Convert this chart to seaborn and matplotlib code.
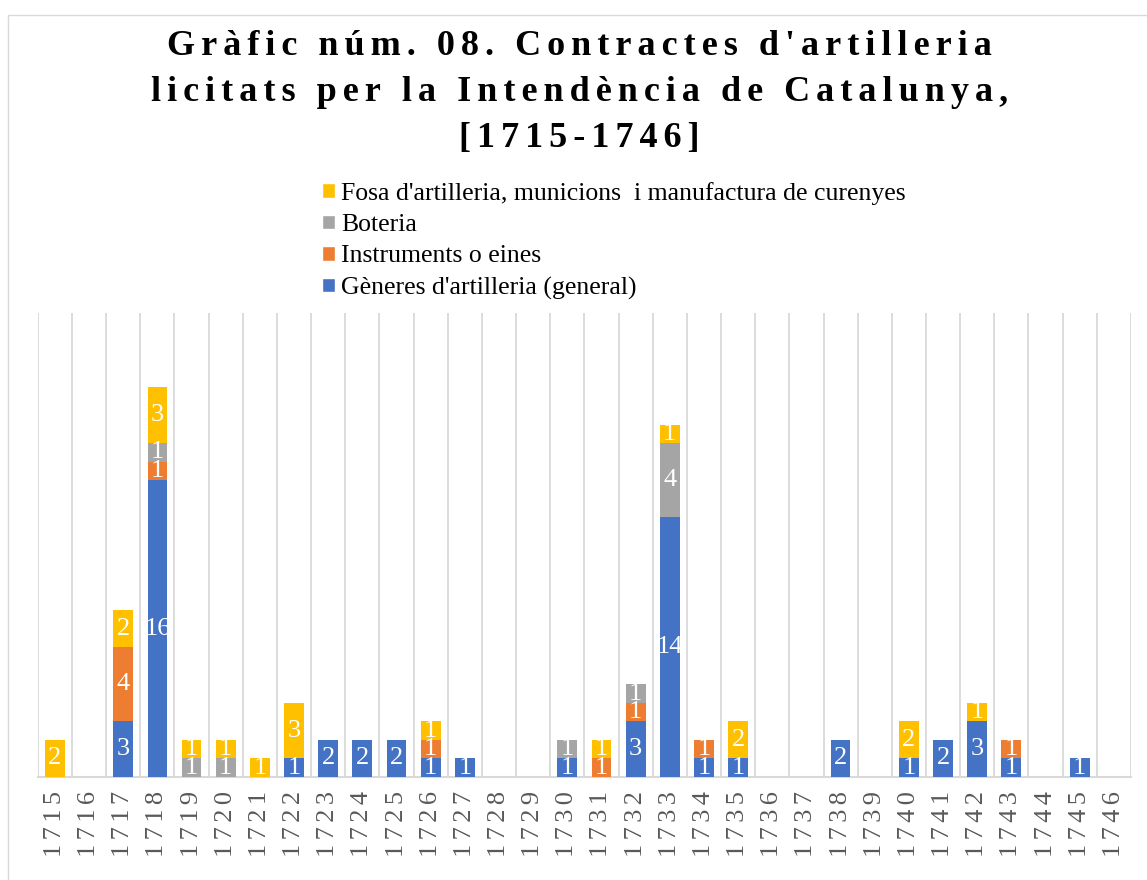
import matplotlib
matplotlib.use("Agg")
import matplotlib.pyplot as plt
import numpy as np
import pandas as pd
import seaborn as sns
from matplotlib.patches import Patch, Rectangle

years = [str(y) for y in range(1715, 1747)]

# one value per year, 1715..1746
generes = [0, 0, 3, 16, 0, 0, 0, 1, 2, 2, 2, 1, 1, 0, 0, 1,
           0, 3, 14, 1, 1, 0, 0, 2, 0, 1, 2, 3, 1, 0, 1, 0]
instruments = [0, 0, 4, 1, 0, 0, 0, 0, 0, 0, 0, 1, 0, 0, 0, 0,
               1, 1, 0, 1, 0, 0, 0, 0, 0, 0, 0, 0, 1, 0, 0, 0]
boteria = [0, 0, 0, 1, 1, 1, 0, 0, 0, 0, 0, 0, 0, 0, 0, 1,
           0, 1, 4, 0, 0, 0, 0, 0, 0, 0, 0, 0, 0, 0, 0, 0]
fosa = [2, 0, 2, 3, 1, 1, 1, 3, 0, 0, 0, 1, 0, 0, 0, 0,
        1, 0, 1, 0, 2, 0, 0, 0, 0, 2, 0, 1, 0, 0, 0, 0]

series_names = [
    "Gèneres d'artilleria (general)",
    "Instruments o eines",
    "Boteria",
    "Fosa d'artilleria, municions  i manufactura de curenyes",
]
colors = ["#4472C4", "#ED7D31", "#A5A5A5", "#FFC000"]

title_lines = ["Gràfic núm. 08. Contractes d'artilleria",
               "licitats per la Intendència de Catalunya,",
               "[1715-1746]"]


def spaced(s, gap="\u2006"):
    # the original has wide letter spacing
    return gap.join(s)


sns.set_theme(style="white")
plt.rcParams["font.family"] = ["Liberation Serif", "DejaVu Serif"]

df = pd.DataFrame({"year": years})
layers = [generes, instruments, boteria, fosa]
cum = np.cumsum(np.array(layers), axis=0)

fig = plt.figure(figsize=(11.47, 8.8), dpi=100)
ax = fig.add_axes([0.033, 0.117, 0.953, 0.527])

# draw stacked bars top layer first so lower layers cover them
for i in range(len(layers) - 1, -1, -1):
    df["total"] = cum[i]
    sns.barplot(data=df, x="year", y="total", order=years, color=colors[i],
                saturation=1, width=0.58, ax=ax, zorder=3, linewidth=0)

# segment labels
for i, vals in enumerate(layers):
    bottoms = cum[i] - np.array(vals)
    for x, (v, b) in enumerate(zip(vals, bottoms)):
        if v > 0:
            ax.text(x, b + v / 2, str(v), ha="center", va="center",
                    color="white", fontsize=19, zorder=5)

ax.set_xlim(-0.5, len(years) - 0.5)
ax.set_ylim(0, 25)
ax.set_yticks([])
ax.set_xlabel("")
ax.set_ylabel("")
ax.set_xticks(range(len(years)))
ax.set_xticklabels([spaced(y) for y in years], rotation=90, fontsize=19,
                   color="#595959")
ax.tick_params(axis="x", length=0, pad=10)
ax.set_xticks(np.arange(-0.5, len(years), 1), minor=True)
ax.tick_params(axis="x", which="minor", length=0)
ax.grid(axis="x", which="minor", color="#D9D9D9", linewidth=1.3, zorder=0)
ax.grid(axis="x", which="major", visible=False)
for s in ["top", "left", "right"]:
    ax.spines[s].set_visible(False)
ax.spines["bottom"].set_color("#D9D9D9")
ax.spines["bottom"].set_linewidth(1.5)

title = "\n".join(spaced(line) for line in title_lines)
fig.text(0.505, 1 - 30 / 880, title, ha="center", va="top", fontsize=26,
         fontweight="bold", color="black", linespacing=1.52)

handles = [Patch(facecolor=colors[i]) for i in range(3, -1, -1)]
labels = [series_names[i] for i in range(3, -1, -1)]
fig.legend(handles, labels, loc="upper left",
           bbox_to_anchor=(309 / 1147, 1 - 169 / 880), frameon=False,
           fontsize=18.5, handlelength=0.5, handleheight=0.5,
           handletextpad=0.25, labelspacing=0.36, borderpad=0,
           labelcolor="black")

fig.patches.append(Rectangle((8 / 1147, -0.01), 1.1, 1 - 15 / 880 + 0.01,
                             transform=fig.transFigure, fill=False,
                             edgecolor="#D9D9D9", linewidth=1))

fig.savefig("out.png", dpi=100)
